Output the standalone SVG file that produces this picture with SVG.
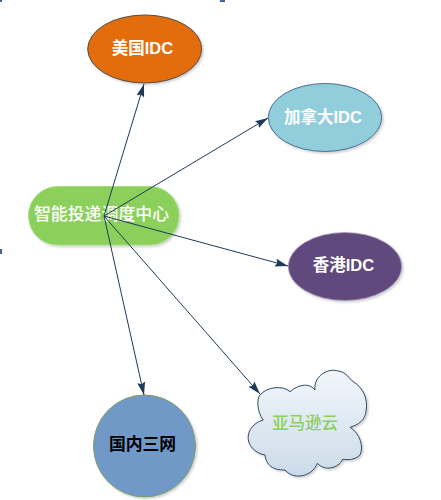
<svg xmlns="http://www.w3.org/2000/svg" width="441" height="500" viewBox="0 0 441 500">
<style>
.t{font-family:"Liberation Sans","Noto Sans CJK SC",sans-serif;font-size:16.500px;font-weight:bold;text-anchor:middle;fill:#fff}
.c{fill:none;stroke:#1f3a58;stroke-width:1}
.h{fill:#41659c}
</style>
<defs>
<filter id="s" x="-10%" y="-10%" width="125%" height="125%"><feDropShadow dx="1.500" dy="1.500" stdDeviation="1" flood-color="#000" flood-opacity="0.2"/></filter>
<marker id="a" markerUnits="userSpaceOnUse" markerWidth="14" markerHeight="10" refX="13" refY="4" orient="auto"><path d="M0,0L13,4L0,8L2,4Z" fill="#1f3a58"/></marker>
<linearGradient id="g" x1="0" y1="0" x2="0" y2="1"><stop offset="0" stop-color="#f2f6fb"/><stop offset="1" stop-color="#ccdbe9"/></linearGradient>
</defs>
<rect width="441" height="500" fill="#fff"/>
<rect class="h" x="0" y="0" width="2" height="2"/>
<rect class="h" x="220" y="0" width="5" height="2"/>
<rect class="h" x="0" y="249" width="2" height="5"/>
<g id="n-us"><ellipse cx="144.700" cy="49" rx="57" ry="34" fill="#e36c09" stroke="#4f4f4f" filter="url(#s)"/><text class="t" x="142.500" y="54">美国IDC</text></g>
<g id="n-ca"><ellipse cx="325" cy="117.500" rx="56.700" ry="34" fill="#92cddc" stroke="#4a7096" filter="url(#s)"/><text class="t" x="323" y="122.500">加拿大IDC</text></g>
<g id="n-hk"><ellipse cx="345" cy="266.500" rx="56.700" ry="34" fill="#604a7b" stroke="#a99bbd" stroke-width="0.800" filter="url(#s)"/><text class="t" x="343.500" y="271">香港IDC</text></g>
<g id="n-center"><rect x="28.500" y="186.500" width="150.500" height="58.500" rx="29.200" fill="#8bd05a" stroke="#a5dc80" filter="url(#s)"/><text class="t" x="101.500" y="220" style="font-size:16.900px;font-weight:500">智能投递调度中心</text></g>
<g id="n-cn"><circle cx="144.500" cy="446" r="51" fill="#7099c8" stroke="#7f9d62" filter="url(#s)"/><text class="t" x="142.500" y="450" style="fill:#000;font-size:16.800px">国内三网</text></g>
<g id="n-aws"><path d="M263.300,420C256.700,411.700 256.700,398.300 260,395C266.700,386.700 283.300,385 290,391.700C300,383.300 310,383.300 315,390C313.300,376.700 326.700,368.300 336.700,370.700C346.700,371.700 348.300,378.300 353.300,381.700C363.300,388.300 368.300,398.300 366,411.700C365,420 358.300,425 350,427.300C360,433.300 364,446.700 360,455C355,460 348.300,460 342.700,459.300C338.300,468.300 325,471.700 317.300,463.300C313.300,475 295,481.700 285,470C276.700,470 266.700,468.300 265,455C255,453.300 246.700,445 248.300,435C250,426.700 256.700,421.700 263.300,420Z" fill="url(#g)" stroke="#2f4a66" filter="url(#s)"/><text class="t" x="305" y="429" style="fill:#8bd05a;font-weight:500">亚马逊云</text></g>
<g id="connectors">
<line class="c" x1="104" y1="216" x2="144" y2="84" marker-end="url(#a)"/>
<line class="c" x1="104" y1="216" x2="268" y2="118" marker-end="url(#a)"/>
<line class="c" x1="104" y1="216" x2="288" y2="266" marker-end="url(#a)"/>
<line class="c" x1="104" y1="216" x2="144" y2="395" marker-end="url(#a)"/>
<line class="c" x1="104" y1="216" x2="260" y2="394" marker-end="url(#a)"/>
</g>
</svg>
